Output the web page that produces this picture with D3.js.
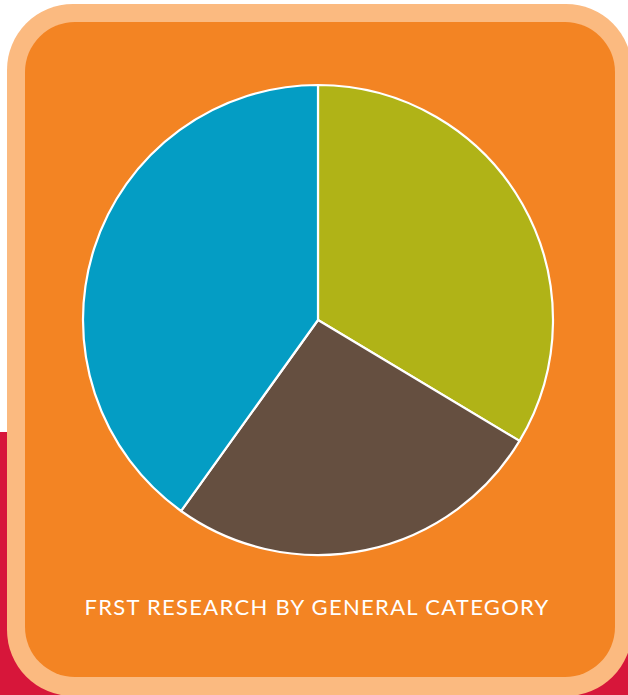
<!DOCTYPE html>
<html><head><meta charset="utf-8">
<script src="https://cdn.jsdelivr.net/npm/d3@7"></script>
<style>html,body{margin:0;padding:0;background:#fff;overflow:hidden}</style>
</head><body>
<script>
const categories = ["Category A", "Category B", "Category C"];
const values = [33.6, 26.3, 40.1];
const colors = ["#B0B317", "#654F40", "#049DC4"];
const title = "FRST RESEARCH BY GENERAL CATEGORY";

const W = 628, H = 695;
const svg = d3.select("body").append("svg").attr("width", W).attr("height", H);

// background
svg.append("rect").attr("x",0).attr("y",0).attr("width",W).attr("height",H).attr("fill","#fff");
svg.append("rect").attr("x",0).attr("y",432).attr("width",W).attr("height",H-432).attr("fill","#D7163A");
// outer peach frame
svg.append("rect").attr("x",7).attr("y",4).attr("width",625).attr("height",692).attr("rx",66).attr("ry",66).attr("fill","#FBBA80");
// inner orange panel
svg.append("rect").attr("x",25).attr("y",22).attr("width",590).attr("height",655).attr("rx",50).attr("ry",50).attr("fill","#F38423");

const cx = 318, cy = 320, r = 235;
const pie = d3.pie().sort(null).value(d => d)(values);
const arc = d3.arc().innerRadius(0).outerRadius(r);
const g = svg.append("g").attr("transform", `translate(${cx},${cy})`);
g.selectAll("path").data(pie).join("path")
  .attr("d", arc)
  .attr("fill", (d,i) => colors[i])
  .attr("stroke", "#fff")
  .attr("stroke-width", 2.2)
  .attr("stroke-linejoin", "round");

svg.append("text").attr("x", 317).attr("y", 615)
  .attr("text-anchor","middle")
  .attr("font-family","Lato, 'Open Sans', sans-serif")
  .attr("font-size", 22)
  .attr("letter-spacing", 1.3)
  .attr("fill","#fff")
  .text(title);
</script>
</body></html>
